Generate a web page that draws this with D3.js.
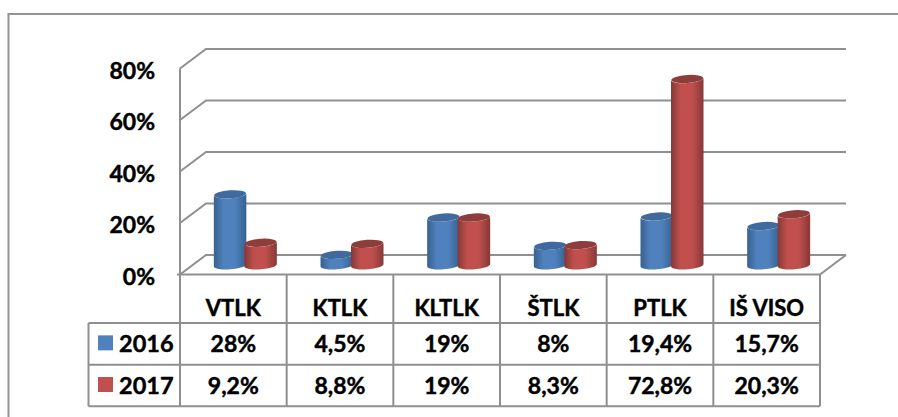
<!DOCTYPE html>
<html lang="en">
<head>
  <meta charset="UTF-8">
  <title>VTLK chart</title>
  <script src="https://d3js.org/d3.v7.min.js"></script>
  <style>
    html, body { margin: 0; padding: 0; background: #fff; }
    svg { display: block; }
    text { font-family: Lato, "Open Sans", sans-serif; font-weight: 700; fill: #000; stroke: #000; stroke-width: 0.45px; }
    .grid { fill: none; stroke: #8f8f8f; stroke-width: 2; }
    .cell { stroke: #8f8f8f; stroke-width: 2; fill: none; }
  </style>
</head>
<body>
  <svg width="898" height="417"></svg>

  <script>
    // Chart values
    const categories = ["VTLK", "KTLK", "KLTLK", "ŠTLK", "PTLK", "IŠ VISO"];
    const seriesNames = ["2016", "2017"];
    const values2016 = [28, 4.5, 19, 8, 19.4, 15.7];
    const values2017 = [9.2, 8.8, 19, 8.3, 72.8, 20.3];
    const yTicks = [0, 20, 40, 60, 80];

    const seriesValues = [values2016, values2017];
    const seriesColors = ["#4f81bd", "#c0504d"];
    const seriesDark = ["#37618f", "#863836"];
    const seriesTop = ["#3f6b9e", "#8f3d3b"];

    const svg = d3.select("svg");

    // Front plane of the 3D box, and the depth offset to the back wall
    const plot = { left: 180, right: 820, top: 68.5, bottom: 274.5 };
    const depth = { x: 26, y: -19.5 };
    const rows = [274.5, 323, 364.7, 406.3];
    const legendLeft = 88.5;

    const x = d3.scaleBand().domain(categories).range([plot.left, plot.right]);
    const y = d3.scaleLinear().domain([0, 80]).range([plot.bottom, plot.top]);
    const barWidth = 32.5, barStep = 30.5;
    const barX = d3.scaleOrdinal().domain(seriesNames).range([-barStep / 2, barStep / 2]);

    // Outer frame (runs off the right and bottom of the picture)
    svg.append("path").attr("d", "M8.5,417V14H898")
       .attr("fill", "none").attr("stroke", "#949494").attr("stroke-width", 2);

    // Gradients for the cylinders, and a little softness like the original
    const defs = svg.append("defs");
    seriesNames.forEach((name, i) => {
      const g = defs.append("linearGradient").attr("id", "cyl" + name);
      g.append("stop").attr("offset", "0%").attr("stop-color", seriesDark[i]);
      g.append("stop").attr("offset", "30%").attr("stop-color", seriesColors[i]);
      g.append("stop").attr("offset", "65%").attr("stop-color", seriesColors[i]);
      g.append("stop").attr("offset", "100%").attr("stop-color", seriesDark[i]);
    });
    defs.append("filter").attr("id", "soft")
        .append("feGaussianBlur").attr("stdDeviation", 0.4);

    // Gridlines: slanted on the side wall, then straight along the back wall
    svg.append("g").selectAll("path").data(yTicks).enter().append("path")
       .attr("class", "grid")
       .attr("d", d => `M${plot.left},${y(d)}l${depth.x},${depth.y}H${plot.right + depth.x}`);

    // Side wall edge and floor
    svg.append("path").attr("class", "grid")
       .attr("d", `M${plot.left},${plot.top}V${plot.bottom}H${plot.right}l${depth.x},${depth.y}`);
    svg.append("path").attr("class", "grid").attr("d", `M${plot.left - 3},${plot.bottom}h3`);

    // Cylinders
    const baseY = plot.bottom + depth.y / 2 + 0.5;
    const rx = barWidth / 2, ry = 4;
    const bars = svg.append("g").attr("filter", "url(#soft)");
    categories.forEach((cat, c) => {
      const cx0 = x(cat) + x.bandwidth() / 2 + depth.x / 2 - 1;
      seriesNames.forEach((name, s) => {
        const cx = cx0 + barX(name);
        const h = y(0) - y(seriesValues[s][c]);
        const topY = baseY - h + 1.2;
        const tilt = -1.2;
        const g = bars.append("g");
        g.append("path")
         .attr("fill", `url(#cyl${name})`)
         .attr("d", `M${cx - rx},${topY - tilt}L${cx - rx},${baseY - tilt}`
           + `A${rx},${ry} -4 0 0 ${cx + rx},${baseY + tilt}`
           + `L${cx + rx},${topY + tilt}A${rx},${ry} -4 0 1 ${cx - rx},${topY - tilt}Z`);
        g.append("ellipse")
         .attr("cx", cx).attr("cy", topY)
         .attr("rx", rx - 0.3).attr("ry", ry)
         .attr("transform", `rotate(-4 ${cx} ${topY})`)
         .attr("fill", seriesTop[s]);
      });
    });

    // Value axis labels
    const axis = svg.append("g").attr("transform", "translate(155,2.5)")
       .call(d3.axisLeft(y).tickValues(yTicks).tickSize(0).tickPadding(0).tickFormat(d => d + "%"));
    axis.select(".domain").remove();
    axis.selectAll("text").style("font-size", "23px").style("font-family", "Lato");

    // Data table
    const table = svg.append("g");
    const edges = categories.map(c => x(c)).concat(plot.right);
    edges.forEach(e => {
      table.append("line").attr("class", "cell")
           .attr("x1", e).attr("x2", e).attr("y1", rows[0]).attr("y2", rows[3]);
    });
    rows.slice(1).forEach(r => {
      table.append("line").attr("class", "cell")
           .attr("x1", legendLeft).attr("x2", plot.right).attr("y1", r).attr("y2", r);
    });
    table.append("line").attr("class", "cell")
         .attr("x1", legendLeft).attr("x2", legendLeft).attr("y1", rows[1]).attr("y2", rows[3]);

    const fmt = v => String(v).replace(".", ",") + "%";
    categories.forEach((cat, c) => {
      table.append("text")
           .attr("x", x(cat) + x.bandwidth() / 2).attr("y", 315.5)
           .attr("text-anchor", "middle").attr("font-size", 22).text(cat);
      seriesValues.forEach((vals, s) => {
        table.append("text")
             .attr("x", x(cat) + x.bandwidth() / 2).attr("y", (rows[s + 1] + rows[s + 2]) / 2 + 8)
             .attr("text-anchor", "middle").attr("font-size", 23).text(fmt(vals[c]));
      });
    });
    seriesNames.forEach((name, s) => {
      const mid = (rows[s + 1] + rows[s + 2]) / 2;
      table.append("rect").attr("x", 98).attr("y", mid - 8.5).attr("width", 15).attr("height", 15)
           .attr("fill", seriesColors[s]);
      table.append("text").attr("x", 119).attr("y", mid + 8)
           .attr("font-size", 23.5).text(name);
    });
  </script>
</body>
</html>
